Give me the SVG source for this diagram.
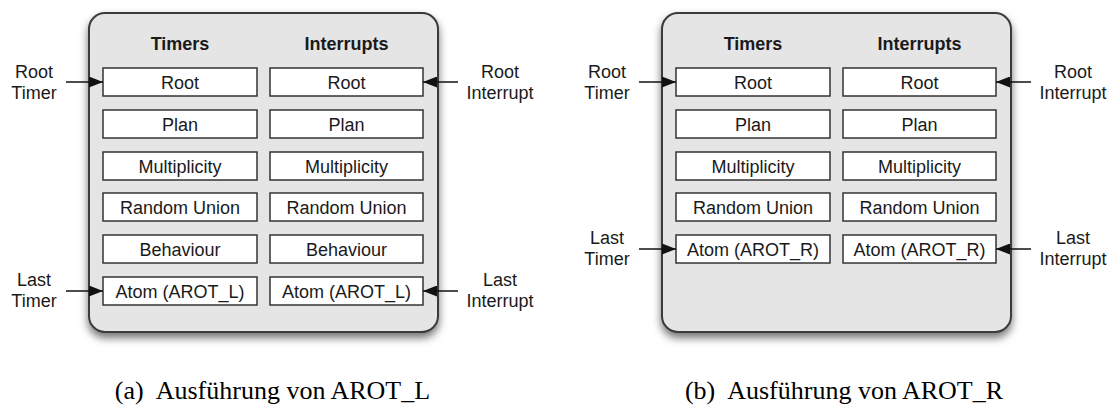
<svg xmlns="http://www.w3.org/2000/svg" width="1111" height="407" viewBox="0 0 1111 407">
  <defs>
    <filter id="shadow" x="-10%" y="-10%" width="120%" height="125%">
      <feDropShadow dx="0" dy="5" stdDeviation="4" flood-color="#000" flood-opacity="0.55"/>
    </filter>
    <marker id="arrow" viewBox="0 0 14 11" refX="14" refY="5.5" markerWidth="14" markerHeight="11" markerUnits="userSpaceOnUse" orient="auto">
      <path d="M0,0 L14,5.5 L0,11 z" fill="#111"/>
    </marker>
  </defs>
  <style>
    .panel { fill: #e5e5e5; stroke: #3a3a3a; stroke-width: 2; }
    .box { fill: #ffffff; stroke: #333333; stroke-width: 1.5; }
    .hdr { font-family: "Liberation Sans", Arial, sans-serif; font-weight: bold; font-size: 18px; fill: #1a1a1a; text-anchor: middle; }
    .lbl { font-family: "Liberation Sans", Arial, sans-serif; font-size: 18px; fill: #1a1a1a; text-anchor: middle; }
    .side { font-family: "Liberation Sans", Arial, sans-serif; font-size: 18px; fill: #1a1a1a; text-anchor: middle; }
    .cap { font-family: "Liberation Serif", "Times New Roman", serif; font-size: 26px; fill: #000; text-anchor: middle; }
    .conn { stroke: #111; stroke-width: 1.5; fill: none; marker-end: url(#arrow); }
  </style>

  <!-- (a) AROT_L -->
  <g id="panel-a">
    <rect class="panel" x="89" y="13" width="349" height="319" rx="16" filter="url(#shadow)"/>
    <text class="hdr" x="180" y="50">Timers</text>
    <text class="hdr" x="346.5" y="50">Interrupts</text>
  </g>
  <g id="a-t-root"><rect class="box" x="103" y="68" width="154" height="28"/><text class="lbl" x="180" y="88.5">Root</text></g>
  <g id="a-t-plan"><rect class="box" x="103" y="110" width="154" height="28"/><text class="lbl" x="180" y="130.5">Plan</text></g>
  <g id="a-t-mult"><rect class="box" x="103" y="152" width="154" height="28"/><text class="lbl" x="180" y="172.5">Multiplicity</text></g>
  <g id="a-t-union"><rect class="box" x="103" y="193" width="154" height="28"/><text class="lbl" x="180" y="213.5">Random Union</text></g>
  <g id="a-t-beh"><rect class="box" x="103" y="235" width="154" height="28"/><text class="lbl" x="180" y="255.5">Behaviour</text></g>
  <g id="a-t-atom"><rect class="box" x="103" y="277" width="154" height="28"/><text class="lbl" x="180" y="297.5">Atom (AROT_L)</text></g>
  <g id="a-i-root"><rect class="box" x="270" y="68" width="153" height="28"/><text class="lbl" x="346.5" y="88.5">Root</text></g>
  <g id="a-i-plan"><rect class="box" x="270" y="110" width="153" height="28"/><text class="lbl" x="346.5" y="130.5">Plan</text></g>
  <g id="a-i-mult"><rect class="box" x="270" y="152" width="153" height="28"/><text class="lbl" x="346.5" y="172.5">Multiplicity</text></g>
  <g id="a-i-union"><rect class="box" x="270" y="193" width="153" height="28"/><text class="lbl" x="346.5" y="213.5">Random Union</text></g>
  <g id="a-i-beh"><rect class="box" x="270" y="235" width="153" height="28"/><text class="lbl" x="346.5" y="255.5">Behaviour</text></g>
  <g id="a-i-atom"><rect class="box" x="270" y="277" width="153" height="28"/><text class="lbl" x="346.5" y="297.5">Atom (AROT_L)</text></g>
  <g id="a-root-timer"><text class="side" x="34" y="78">Root</text><text class="side" x="34" y="99">Timer</text></g>
  <g id="a-root-int"><text class="side" x="500" y="78">Root</text><text class="side" x="500" y="99">Interrupt</text></g>
  <g id="a-last-timer"><text class="side" x="34" y="286">Last</text><text class="side" x="34" y="307">Timer</text></g>
  <g id="a-last-int"><text class="side" x="500" y="286">Last</text><text class="side" x="500" y="307">Interrupt</text></g>
  <g id="a-caption"><text class="cap" x="272.5" y="399">(a)<tspan dx="12">Ausführung von AROT_L</tspan></text></g>

  <!-- (b) AROT_R -->
  <g id="panel-b">
    <rect class="panel" x="662" y="13" width="349" height="319" rx="16" filter="url(#shadow)"/>
    <text class="hdr" x="753" y="50">Timers</text>
    <text class="hdr" x="919.5" y="50">Interrupts</text>
  </g>
  <g id="b-t-root"><rect class="box" x="676" y="68" width="154" height="28"/><text class="lbl" x="753" y="88.5">Root</text></g>
  <g id="b-t-plan"><rect class="box" x="676" y="110" width="154" height="28"/><text class="lbl" x="753" y="130.5">Plan</text></g>
  <g id="b-t-mult"><rect class="box" x="676" y="152" width="154" height="28"/><text class="lbl" x="753" y="172.5">Multiplicity</text></g>
  <g id="b-t-union"><rect class="box" x="676" y="193" width="154" height="28"/><text class="lbl" x="753" y="213.5">Random Union</text></g>
  <g id="b-t-atom"><rect class="box" x="676" y="235" width="154" height="28"/><text class="lbl" x="753" y="255.5">Atom (AROT_R)</text></g>
  <g id="b-i-root"><rect class="box" x="843" y="68" width="153" height="28"/><text class="lbl" x="919.5" y="88.5">Root</text></g>
  <g id="b-i-plan"><rect class="box" x="843" y="110" width="153" height="28"/><text class="lbl" x="919.5" y="130.5">Plan</text></g>
  <g id="b-i-mult"><rect class="box" x="843" y="152" width="153" height="28"/><text class="lbl" x="919.5" y="172.5">Multiplicity</text></g>
  <g id="b-i-union"><rect class="box" x="843" y="193" width="153" height="28"/><text class="lbl" x="919.5" y="213.5">Random Union</text></g>
  <g id="b-i-atom"><rect class="box" x="843" y="235" width="153" height="28"/><text class="lbl" x="919.5" y="255.5">Atom (AROT_R)</text></g>
  <g id="b-root-timer"><text class="side" x="607" y="78">Root</text><text class="side" x="607" y="99">Timer</text></g>
  <g id="b-root-int"><text class="side" x="1073" y="78">Root</text><text class="side" x="1073" y="99">Interrupt</text></g>
  <g id="b-last-timer"><text class="side" x="607" y="244">Last</text><text class="side" x="607" y="265">Timer</text></g>
  <g id="b-last-int"><text class="side" x="1073" y="244">Last</text><text class="side" x="1073" y="265">Interrupt</text></g>
  <g id="b-caption"><text class="cap" x="844" y="399">(b)<tspan dx="12">Ausführung von AROT_R</tspan></text></g>

  <!-- pointer arrows -->
  <g id="connectors">
    <line class="conn" x1="66" y1="82" x2="103" y2="82"/>
    <line class="conn" x1="458" y1="82" x2="423" y2="82"/>
    <line class="conn" x1="66" y1="291" x2="103" y2="291"/>
    <line class="conn" x1="458" y1="291" x2="423" y2="291"/>
    <line class="conn" x1="639" y1="82" x2="676" y2="82"/>
    <line class="conn" x1="1031" y1="82" x2="996" y2="82"/>
    <line class="conn" x1="639" y1="249" x2="676" y2="249"/>
    <line class="conn" x1="1031" y1="249" x2="996" y2="249"/>
  </g>
</svg>
